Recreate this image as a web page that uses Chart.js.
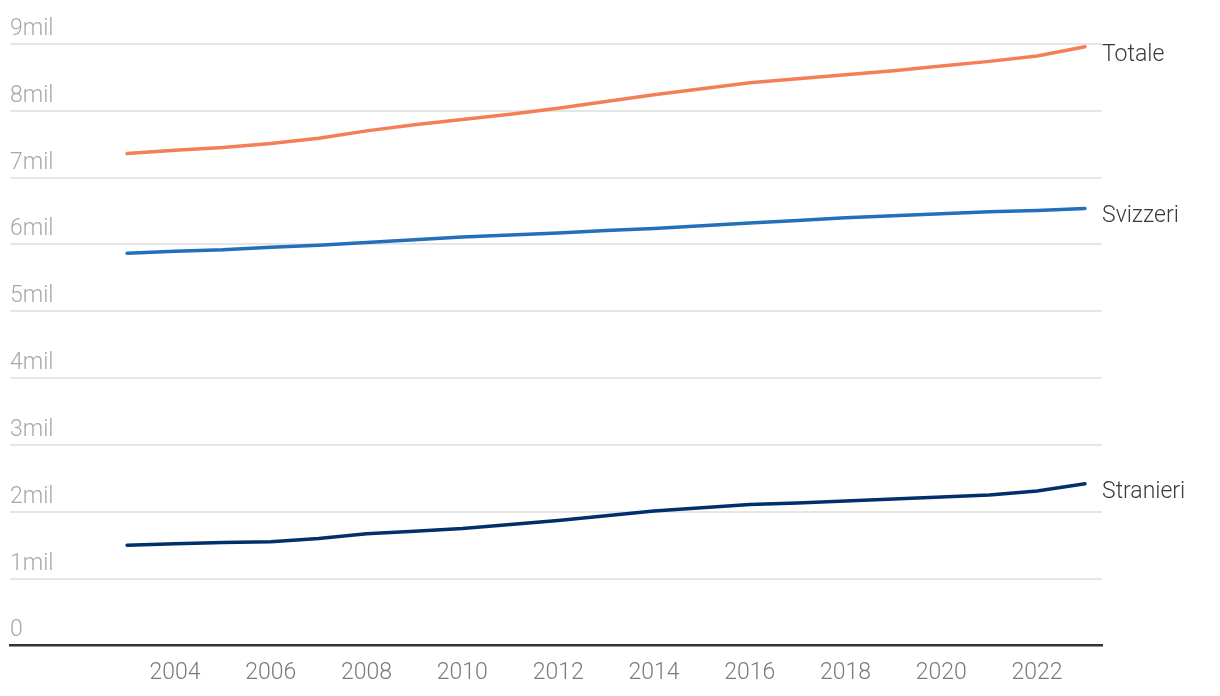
<!DOCTYPE html>
<html lang="it">
<head>
<meta charset="utf-8">
<title>Popolazione residente</title>
<script src="https://cdn.jsdelivr.net/npm/chart.js@4.4.1/dist/chart.umd.min.js"></script>
<style>
    html, body { margin: 0; padding: 0; background: #ffffff; }
    #wrap { position: relative; width: 1220px; height: 696px; }
</style>
</head>
<body>
<div id="wrap"><canvas id="popChart"></canvas></div>
<script>
// --- DATI ---
const years = [2003, 2004, 2005, 2006, 2007, 2008, 2009, 2010, 2011, 2012, 2013,
               2014, 2015, 2016, 2017, 2018, 2019, 2020, 2021, 2022, 2023];
// milioni di persone
const totale = [7.36, 7.41, 7.45, 7.51, 7.59, 7.70, 7.79, 7.87, 7.95, 8.04, 8.14,
                8.24, 8.33, 8.42, 8.48, 8.54, 8.60, 8.67, 8.74, 8.82, 8.96];
const svizzeri = [5.87, 5.90, 5.92, 5.96, 5.99, 6.03, 6.07, 6.11, 6.14, 6.17, 6.21,
                  6.24, 6.28, 6.32, 6.36, 6.40, 6.43, 6.46, 6.49, 6.51, 6.54];
const stranieri = [1.50, 1.52, 1.54, 1.55, 1.60, 1.67, 1.71, 1.75, 1.81, 1.87, 1.94,
                   2.01, 2.06, 2.11, 2.13, 2.16, 2.19, 2.22, 2.25, 2.31, 2.42];
const seriesNames = ['Totale', 'Svizzeri', 'Stranieri'];
const xTicks = [2004, 2006, 2008, 2010, 2012, 2014, 2016, 2018, 2020, 2022];
const yTicks = [0, 1, 2, 3, 4, 5, 6, 7, 8, 9];
const yTickLabels = ['0', '1mil', '2mil', '3mil', '4mil', '5mil', '6mil', '7mil', '8mil', '9mil'];

const FONT = 'Roboto, "Noto Sans", sans-serif';

document.addEventListener('DOMContentLoaded', () => {

    const toPoints = vals => years.map((y, i) => ({ x: y, y: vals[i] }));

    // etichette dell'asse y, sopra le linee della griglia
    const yLabelsPlugin = {
        id: 'yLabels',
        beforeDatasetsDraw(chart) {
            const { ctx, chartArea, scales } = chart;
            ctx.save();
            ctx.font = `300 23px ${FONT}`;
            ctx.fillStyle = '#a8a8a8';
            ctx.textAlign = 'left';
            ctx.textBaseline = 'alphabetic';
            yTicks.forEach((v, i) => {
                ctx.fillText(yTickLabels[i], chartArea.left, scales.y.getPixelForValue(v) - 9);
            });
            ctx.restore();
        }
    };

    // nome della serie alla fine di ogni linea
    const endLabelsPlugin = {
        id: 'endLabels',
        afterDatasetsDraw(chart) {
            const { ctx } = chart;
            ctx.save();
            ctx.font = `300 23px ${FONT}`;
            ctx.fillStyle = '#3a3a3a';
            ctx.textAlign = 'left';
            ctx.textBaseline = 'alphabetic';
            chart.data.datasets.forEach((ds, i) => {
                const meta = chart.getDatasetMeta(i);
                const last = meta.data[meta.data.length - 1];
                ctx.fillText(ds.label, last.x + 17, last.y + 14);
            });
            ctx.restore();
        }
    };

    const ctx = document.getElementById('popChart').getContext('2d');
    new Chart(ctx, {
        type: 'line',
        data: {
            datasets: [
                { label: seriesNames[0], data: toPoints(totale), borderColor: '#f47e57' },
                { label: seriesNames[1], data: toPoints(svizzeri), borderColor: '#2270b9' },
                { label: seriesNames[2], data: toPoints(stranieri), borderColor: '#012f6b' }
            ].map(ds => Object.assign(ds, {
                borderWidth: 3.5,
                pointRadius: 0,
                tension: 0,
                borderCapStyle: 'round',
                fill: false
            }))
        },
        options: {
            responsive: true,
            maintainAspectRatio: false,
            animation: false,
            layout: { padding: { left: 10, right: 118, top: 44, bottom: -5 } },
            plugins: {
                legend: { display: false },
                tooltip: { enabled: false }
            },
            scales: {
                x: {
                    type: 'linear',
                    min: 2000.555,
                    max: 2023.355,
                    afterBuildTicks: axis => { axis.ticks = xTicks.map(v => ({ value: v })); },
                    ticks: {
                        color: '#7b7b7b',
                        font: { family: FONT, size: 23, weight: 300 },
                        padding: 14,
                        maxRotation: 0,
                        autoSkip: false,
                        callback: v => String(v)
                    },
                    grid: { display: false, drawTicks: false },
                    border: { display: true, color: '#333333', width: 2.5 }
                },
                y: {
                    min: 0,
                    max: 9,
                    afterBuildTicks: axis => { axis.ticks = yTicks.map(v => ({ value: v })); },
                    ticks: { display: false },
                    grid: { color: '#e6e6e6', lineWidth: 2, drawTicks: false },
                    border: { display: false }
                }
            }
        },
        plugins: [yLabelsPlugin, endLabelsPlugin]
    });
});
</script>
</body>
</html>
